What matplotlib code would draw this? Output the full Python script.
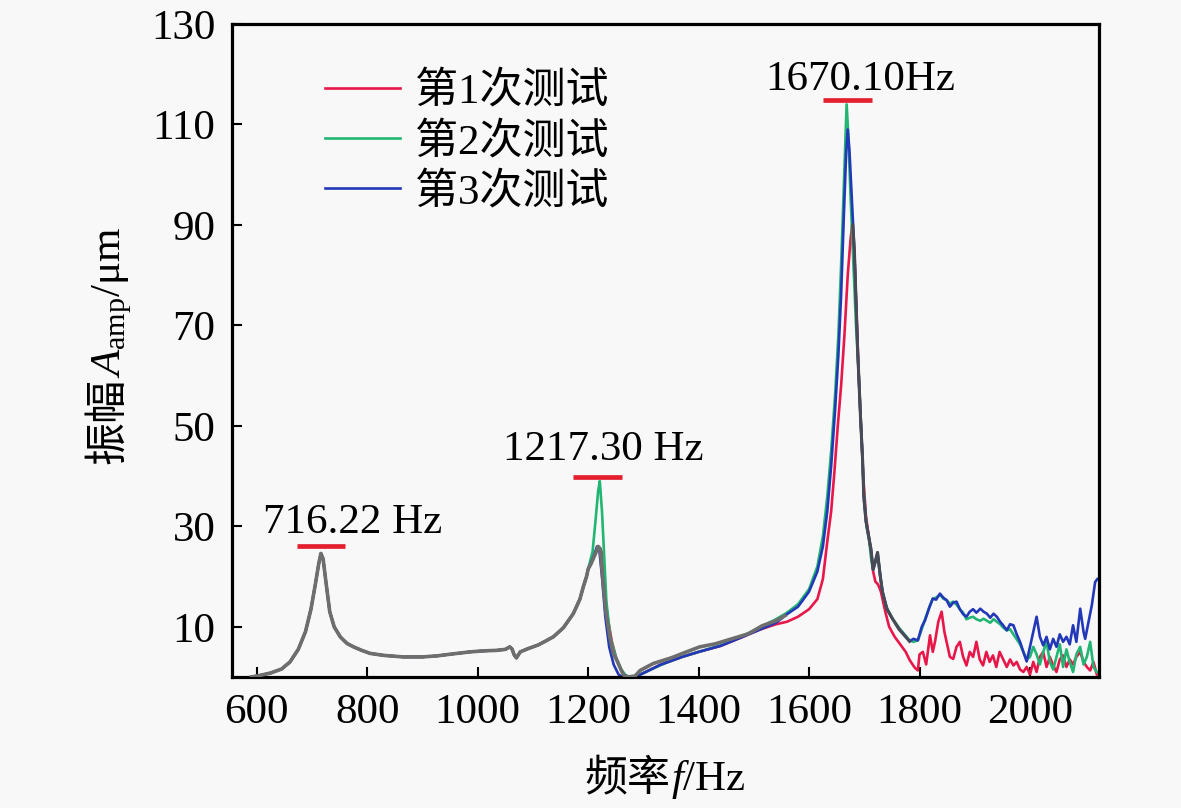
import numpy as np
import matplotlib

matplotlib.use("Agg")
import matplotlib.pyplot as plt
from matplotlib.transforms import IdentityTransform

plt.rcParams["font.family"] = ["Liberation Serif", "Noto Sans CJK SC"]
plt.rcParams["mathtext.fontset"] = "custom"
plt.rcParams["mathtext.rm"] = "Liberation Serif"
plt.rcParams["mathtext.it"] = "Liberation Serif:italic"

# ---- data (frequency in Hz, amplitude in um) ----
# low-frequency part where the three tests coincide
shared_f = [590, 605, 625, 645, 660, 675, 688, 698, 706, 712, 716, 720, 725, 732, 740,
            751, 763, 775, 790, 805, 830, 865, 900, 926, 955, 986, 1010, 1034, 1050,
            1058, 1062, 1066, 1070, 1077, 1090, 1110, 1137, 1155, 1173, 1185, 1191, 1197]
shared_a = [0.0, 0.3, 0.8, 1.6, 3.0, 5.5, 9.0, 13.5, 18.5, 22.5, 24.6, 23.5, 19.0, 13.0,
            10.0, 8.0, 6.7, 6.0, 5.3, 4.7, 4.3, 4.0, 4.0, 4.2, 4.6, 5.0, 5.2, 5.3, 5.5,
            6.0, 5.6, 4.4, 3.8, 5.0, 5.6, 6.4, 8.0, 9.8, 12.6, 15.5, 17.9, 20.0]

# test 1 (red)
t1_f = [1200, 1210, 1218, 1224, 1228, 1235, 1243, 1252, 1262, 1272, 1285, 1300, 1330,
        1370, 1400, 1440, 1480, 1510, 1540, 1560, 1580, 1600, 1615, 1625, 1633, 1640,
        1646, 1652, 1658, 1664, 1670, 1675, 1678, 1682, 1686, 1690, 1694, 1698, 1703,
        1708, 1712, 1716, 1720, 1725, 1730, 1738, 1745, 1755, 1765, 1775, 1782, 1791,
        1797, 1800, 1806, 1812, 1819, 1824, 1828, 1834, 1840, 1845, 1849, 1855, 1861,
        1867, 1873, 1879, 1885, 1891, 1897, 1903, 1909, 1915, 1921, 1927, 1933, 1939,
        1945, 1951, 1958, 1964, 1970, 1976, 1982, 1988, 1994, 2000, 2006, 2012, 2018,
        2024, 2030, 2036, 2042, 2048, 2054, 2060, 2066, 2072, 2078, 2084, 2091, 2097,
        2103, 2109, 2115, 2121]
t1_a = [21.5, 24.0, 26.0, 25.0, 19.0, 12.0, 7.0, 3.3, 0.8, 0.0, 0.0, 0.8, 2.4,
        4.0, 5.0, 6.2, 8.0, 9.4, 10.5, 11.0, 12.0, 13.5, 15.5, 19.5, 27.0, 33.0,
        41.0, 50.0, 58.0, 68.0, 80.0, 87.0, 90.0, 84.0, 72.0, 60.0, 50.0, 40.0, 32.0,
        28.0, 25.0, 21.0, 19.0, 18.4, 17.0, 13.0, 10.0, 8.0, 6.5, 5.0, 3.4, 1.9,
        1.3, 4.5, 5.0, 2.5, 8.3, 5.0, 7.0, 11.0, 13.0, 9.0, 7.0, 4.0, 3.6,
        6.0, 7.0, 4.0, 2.3, 5.0, 4.0, 7.0, 3.5, 2.3, 5.0, 3.0, 4.3, 2.0,
        5.0, 3.6, 2.0, 3.5, 2.3, 3.0, 1.5, 1.0, 2.0, 0.5, 3.0, 1.0, 4.0,
        5.0, 2.0, 4.0, 2.3, 1.0, 3.5, 4.3, 2.0, 3.5, 2.5, 4.0, 5.0, 3.0,
        2.0, 1.3, 3.0, 0.5]

# test 2 (green)
t2_f = [1200, 1208, 1214, 1218, 1221, 1225, 1229, 1233, 1240, 1250, 1260, 1268, 1278,
        1290, 1310, 1340, 1370, 1400, 1440, 1480, 1510, 1540, 1560, 1580, 1600, 1615,
        1625, 1633, 1640, 1647, 1653, 1658, 1663, 1666, 1668, 1671, 1675, 1680, 1685,
        1690, 1695, 1699, 1704, 1709, 1713, 1716, 1720, 1724, 1729, 1733, 1740, 1751,
        1765, 1775, 1782, 1789, 1797, 1804, 1810, 1818, 1824, 1830, 1837, 1843, 1849,
        1855, 1861, 1867, 1873, 1879, 1885, 1891, 1897, 1903, 1910, 1916, 1922, 1928,
        1934, 1940, 1946, 1952, 1958, 1964, 1970, 1976, 1982, 1988, 1994, 2000, 2006,
        2012, 2018, 2024, 2030, 2036, 2042, 2048, 2054, 2060, 2066, 2072, 2078, 2084,
        2091, 2097, 2103, 2109, 2115, 2121]
t2_a = [21.5, 25.0, 32.0, 37.0, 39.0, 33.0, 24.0, 15.0, 8.0, 4.0, 1.5, 0.3, 0.0,
        0.3, 1.3, 2.8, 4.0, 5.0, 6.3, 8.2, 9.8, 11.5, 12.8, 14.5, 17.5, 22.0,
        28.0, 36.0, 45.0, 56.0, 68.0, 82.0, 98.0, 108.0, 114.0, 108.0, 96.0, 83.0, 70.0,
        60.0, 48.0, 37.0, 30.0, 27.0, 23.0, 21.5, 23.0, 24.5, 20.0, 17.0, 14.0, 11.6,
        9.5, 8.2, 7.3, 7.0, 7.3, 9.5, 11.5, 14.0, 15.6, 15.8, 16.4, 15.6, 15.3,
        14.6, 15.0, 14.4, 13.5, 12.8, 11.5, 11.8, 12.0, 11.5, 11.2, 11.6, 11.2, 10.8,
        11.5, 11.0, 10.5, 9.8, 9.3, 9.5, 8.5, 7.5, 6.5, 5.0, 3.5, 4.0, 6.0,
        4.5, 2.5, 5.0, 7.0, 3.0, 1.5, 4.0, 6.5, 2.0, 5.5, 3.0, 1.0, 4.5,
        6.0, 2.5, 4.0, 7.0, 2.0, 1.0]

# test 3 (blue)
t3_f = [1200, 1210, 1216, 1220, 1225, 1231, 1238, 1246, 1255, 1262, 1280, 1295, 1330,
        1370, 1400, 1440, 1480, 1510, 1540, 1560, 1580, 1600, 1615, 1625, 1633, 1640,
        1647, 1653, 1658, 1663, 1667, 1670, 1673, 1677, 1682, 1688, 1693, 1697, 1699,
        1703, 1708, 1712, 1716, 1720, 1724, 1729, 1733, 1741, 1751, 1763, 1775, 1782,
        1789, 1797, 1804, 1810, 1818, 1824, 1830, 1837, 1843, 1849, 1855, 1861, 1867,
        1873, 1879, 1885, 1891, 1897, 1903, 1910, 1916, 1922, 1928, 1934, 1940, 1946,
        1952, 1958, 1964, 1970, 1976, 1982, 1988, 1994, 2000, 2006, 2012, 2018, 2024,
        2030, 2036, 2042, 2048, 2054, 2060, 2066, 2072, 2078, 2084, 2091, 2097, 2100,
        2106, 2112, 2118, 2122]
t3_a = [21.5, 24.0, 26.0, 25.5, 20.0, 12.0, 6.0, 2.5, 0.5, 0.0, 0.0, 0.5, 2.4,
        4.0, 5.0, 6.2, 8.0, 9.4, 10.8, 12.5, 14.0, 17.0, 21.0, 26.0, 33.0, 42.0,
        53.0, 64.0, 76.0, 92.0, 104.0, 109.0, 105.0, 96.0, 85.0, 65.0, 52.0, 43.0, 36.0,
        31.0, 28.0, 25.5, 21.4, 23.0, 24.8, 20.0, 16.9, 13.5, 11.6, 9.5, 8.0, 7.1,
        7.6, 7.3, 10.0, 11.3, 13.9, 15.6, 15.4, 16.6, 15.8, 15.3, 14.0, 14.8, 15.0,
        13.5, 12.5, 12.0, 13.0, 13.5, 12.8, 13.6, 13.0, 12.6, 11.8, 12.6, 12.0, 11.0,
        10.2, 9.3, 10.5, 10.3, 8.5, 7.0, 5.0, 3.1, 6.0, 9.0, 12.0, 8.0, 6.3,
        8.0, 5.5, 7.6, 6.0, 8.5, 7.0, 8.0, 6.5, 10.3, 7.0, 13.6, 9.0, 7.6,
        11.0, 14.3, 18.9, 19.5]

# gray overlap curves (where the tests are drawn on top of each other)
overlap_f = [1200, 1205, 1213, 1218, 1222, 1226, 1232, 1239, 1246, 1252, 1258, 1264,
             1272, 1285, 1294, 1318, 1350, 1378, 1402, 1430, 1460, 1490, 1515, 1540, 1556]
overlap_a = [21.5, 22.5, 24.5, 26.0, 25.5, 20.0, 13.0, 8.0, 4.5, 3.3, 1.8, 0.4,
             0.0, 0.2, 1.3, 2.7, 3.8, 5.0, 6.0, 6.6, 7.6, 8.6, 10.2, 11.2, 12.2]
flank_f = [1679, 1682, 1688, 1693, 1697, 1699, 1703, 1708, 1712, 1716, 1720, 1724,
           1729, 1733, 1741, 1751, 1763, 1775, 1782]
flank_a = [90.0, 85.0, 65.0, 52.0, 43.0, 36.0, 31.0, 28.0, 25.5, 21.4, 23.0, 24.8,
           20.0, 16.9, 13.5, 11.6, 9.5, 8.0, 7.1]

labels = ["第1次测试", "第2次测试", "第3次测试"]
peak_f = np.array([716.22, 1217.30, 1670.10])
peak_bar = [26.1, 39.9, 114.8]
peak_text = ["716.22 Hz", "1217.30 Hz", "1670.10Hz"]
peak_text_off = [(32, 13), (6, 17), (12, 10)]  # pixels

BG = "#f8f8f8"
COLORS = ["#e8174a", "#22b573", "#2338b8"]
GRAY = "#6e6e6e"
BAR = "#e4202e"
FS = 31
W, H = 1181, 808


def piece_label(fig, pieces, center, baseline, vertical):
    """Lay out text pieces (text, family) one after another in pixel coords."""
    r = fig.canvas.get_renderer()
    rot = 90 if vertical else 0
    texts = [fig.text(0, 0, s, transform=IdentityTransform(), fontsize=FS, family=fam,
                      rotation=rot, rotation_mode="anchor", ha="left", va="baseline")
             for s, fam in pieces]
    ext = [t.get_window_extent(r) for t in texts]
    lens = [e.height if vertical else e.width for e in ext]
    pos = center - sum(lens) / 2
    for t, ln in zip(texts, lens):
        t.set_position((baseline, pos) if vertical else (pos, baseline))
        pos += ln


def main():
    fig = plt.figure(figsize=(W / 100, H / 100), dpi=100, facecolor=BG)
    ax = fig.add_axes([232 / W, 1 - 677 / H, (1099 - 232) / W, (677 - 24) / H])
    ax.set_facecolor(BG)

    handles = []
    for f, a, c, lab in zip([t1_f, t2_f, t3_f], [t1_a, t2_a, t3_a], COLORS, labels):
        (ln,) = ax.plot(np.concatenate([shared_f, f]), np.concatenate([shared_a, a]),
                        color=c, lw=1.9, label=lab)
        handles.append(ln)
    ax.plot(np.concatenate([shared_f, overlap_f]), np.concatenate([shared_a, overlap_a]),
            color=GRAY, lw=2.6, zorder=3)
    ax.plot(flank_f, flank_a, color="#4a4a55", lw=2.2, zorder=3)

    ax.hlines(peak_bar, peak_f - 44, peak_f + 44, colors=BAR, lw=3.4, zorder=5)
    for f, a, s, off in zip(peak_f, peak_bar, peak_text, peak_text_off):
        ax.annotate(s, xy=(f, a), xytext=off, textcoords="offset pixels",
                    ha="center", va="baseline", fontsize=FS)

    ax.set_xlim(555, 2125)
    ax.set_ylim(0, 130)
    ax.set_xticks(np.arange(600, 2001, 200))
    ax.set_yticks(np.arange(10, 131, 20))
    ax.tick_params(direction="in", length=7, width=1.5, pad=12, labelsize=FS)
    for sp in ax.spines.values():
        sp.set_linewidth(2.3)

    ax.legend(handles=handles, loc="upper left", frameon=False, fontsize=FS,
              bbox_to_anchor=(325 / W, 1 - 72 / H), bbox_transform=fig.transFigure,
              borderpad=0, borderaxespad=0, handlelength=1.75, handletextpad=0.35,
              labelspacing=0.24)

    fig.canvas.draw()
    piece_label(fig, [("频率", "Noto Sans CJK SC"), ("$f$/Hz", "Liberation Serif")],
                center=665, baseline=H - 790, vertical=False)
    piece_label(fig, [("振幅", "Noto Sans CJK SC"),
                      (r"$A_{\mathrm{amp}}$/μm", "Liberation Serif")],
                center=H - 345, baseline=120, vertical=True)

    fig.savefig("out.png", dpi=100, facecolor=BG)


if __name__ == "__main__":
    main()
